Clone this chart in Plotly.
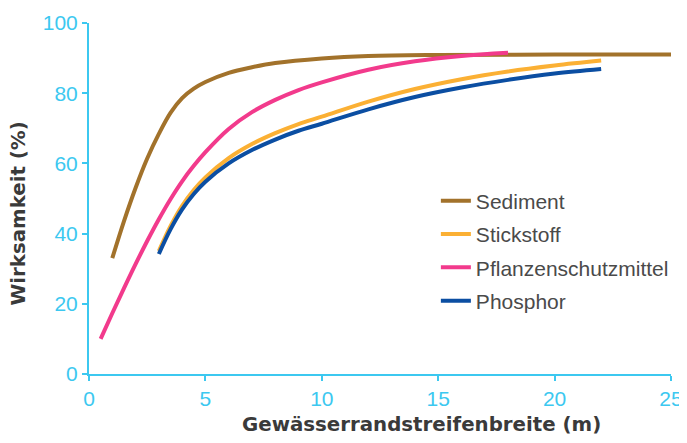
import plotly.graph_objects as go

# Data
sediment_x = [1, 1.5, 2, 2.5, 3, 3.5, 4, 4.5, 5, 6, 7, 8, 10, 12, 15, 20, 25]
sediment_y = [33, 43.5, 53, 61.4, 68.4, 74.4, 78.6, 81.3, 83.2, 85.8, 87.4, 88.6, 89.9, 90.6, 90.9, 91, 91]

stickstoff_x = [3, 3.5, 4, 4.5, 5, 6, 7, 8, 9, 10, 12, 14, 16, 18, 20, 22]
stickstoff_y = [35, 42.1, 47.9, 52.4, 56.0, 61.5, 65.5, 68.6, 71.2, 73.3, 77.6, 81.2, 84.0, 86.2, 87.9, 89.3]

pflanzen_x = [0.5, 1, 1.5, 2, 2.5, 3, 3.5, 4, 4.5, 5, 6, 7, 8, 9, 10, 12, 14, 16, 18]
pflanzen_y = [10, 17.3, 24.4, 31.3, 37.9, 44.1, 49.8, 54.9, 59.3, 63.2, 69.8, 74.6, 78.1, 80.9, 83.1, 86.7, 89.1, 90.6, 91.5]

phosphor_x = [3, 3.5, 4, 4.5, 5, 6, 7, 8, 9, 10, 12, 14, 16, 18, 20, 22]
phosphor_y = [34.2, 41.2, 46.9, 51.3, 54.8, 60.0, 63.8, 66.8, 69.3, 71.3, 75.4, 78.9, 81.6, 83.8, 85.6, 86.9]

x_ticks = [0, 5, 10, 15, 20, 25]
y_ticks = [0, 20, 40, 60, 80, 100]

series = [
    ("Sediment", sediment_x, sediment_y, "#A2722B"),
    ("Stickstoff", stickstoff_x, stickstoff_y, "#FBB034"),
    ("Pflanzenschutzmittel", pflanzen_x, pflanzen_y, "#F23A8C"),
    ("Phosphor", phosphor_x, phosphor_y, "#0B4EA2"),
]

CYAN = "#3cc8f0"
TXT = "#3a3a3a"
FONT = "Liberation Sans, Arial, sans-serif"
TFONT = "DejaVu Sans, sans-serif"

fig = go.Figure()
for i, (name, xs, ys, col) in enumerate(series):
    fig.add_trace(go.Scatter(
        x=xs, y=ys, name=name, mode="lines",
        line=dict(color=col, width=4, shape="spline", smoothing=1.0),
        legendgroup=f"g{i}",
    ))

axis_common = dict(
    showgrid=False, zeroline=False, automargin=False,
    showline=True, linecolor=CYAN, linewidth=2,
    ticks="outside", ticklen=5, tickwidth=2, tickcolor=CYAN,
    tickfont=dict(size=21, color=CYAN, family=FONT),
)

# the page body adds an 8px offset, so the figure is sized to the remaining area
fig.update_layout(
    width=679, height=435,
    margin=dict(l=81, r=16, t=15, b=69, autoexpand=False),
    paper_bgcolor="white", plot_bgcolor="white",
    font=dict(family=FONT),
    showlegend=True,
    legend=dict(
        x=0.596, y=0.551, xanchor="left", yanchor="top",
        font=dict(size=21, color="#4a4a4a", family=FONT),
        tracegroupgap=3, bgcolor="rgba(0,0,0,0)",
        traceorder="grouped",
    ),
    xaxis=dict(range=[0, 25], tickvals=x_ticks, ticktext=[str(v) for v in x_ticks], **axis_common),
    yaxis=dict(range=[0, 100], tickvals=y_ticks, ticktext=[str(v) for v in y_ticks], **axis_common),
    annotations=[
        dict(text="<b>Gewässerrandstreifenbreite (m)</b>", xref="paper", yref="paper",
             x=0.571, y=0, xanchor="center", yanchor="middle", yshift=-50, showarrow=False,
             font=dict(size=19.8, color=TXT, family=TFONT)),
        dict(text="<b>Wirksamkeit (%)</b>", xref="paper", yref="paper", textangle=-90,
             x=0, y=0.457, xanchor="center", yanchor="middle", xshift=-70, showarrow=False,
             font=dict(size=19.8, color=TXT, family=TFONT)),
    ],
)

fig.write_html("out.html")
